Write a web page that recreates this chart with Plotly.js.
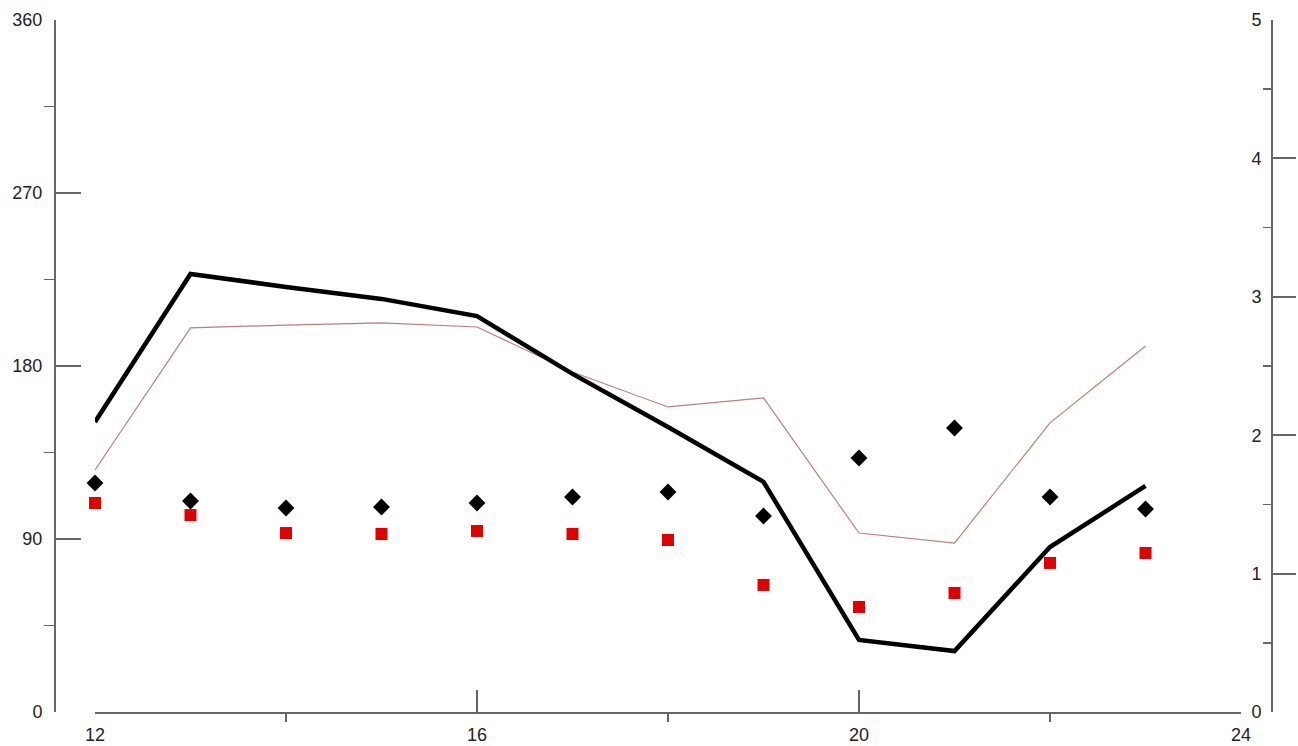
<!DOCTYPE html>
<html>
<head>
<meta charset="utf-8">
<script src="https://cdn.plot.ly/plotly-3.0.1.min.js"></script>
<style>html,body{margin:0;padding:0;background:#fff;}#chart{width:1298px;height:746px;}</style>
</head>
<body>
<div id="chart"></div>
<script>
// Data
const hours = [12, 13, 14, 15, 16, 17, 18, 19, 20, 21, 22, 23];
const blackLine = [150.9, 227.9, 221.1, 214.9, 206.0, 175.9, 148.3, 119.7, 37.5, 31.7, 85.8, 117.6];
const pinkLine = [125.9, 199.8, 201.3, 202.4, 200.3, 176.9, 158.7, 163.4, 93.1, 87.9, 150.4, 190.4];
const diamonds = [1.655, 1.525, 1.474, 1.481, 1.510, 1.553, 1.590, 1.416, 1.835, 2.052, 1.553, 1.467];
const squares = [1.510, 1.423, 1.293, 1.286, 1.308, 1.286, 1.243, 0.918, 0.759, 0.860, 1.077, 1.149];
// Tick positions
const xMinorTicks = [14, 18, 22];
const yMinorTicks = [45, 135, 225, 315];
const y2MinorTicks = [0.5, 1.5, 2.5, 3.5, 4.5];

const W = 1298;
const font = {family: 'Liberation Sans, Arial, sans-serif', size: 18, color: '#222'};
const axisLine = {showline: true, linecolor: '#666', linewidth: 2, showgrid: false, zeroline: false};

const traces = [
  {x: hours, y: pinkLine, type: 'scatter', mode: 'lines', line: {color: 'rgb(190,125,125)', width: 1.2}, xaxis: 'x', yaxis: 'y', cliponaxis: false},
  {x: hours, y: blackLine, type: 'scatter', mode: 'lines', line: {color: '#000', width: 4.5}, xaxis: 'x', yaxis: 'y', cliponaxis: false},
  {x: hours, y: diamonds, type: 'scatter', mode: 'markers', marker: {symbol: 'diamond', color: '#000', size: 13}, xaxis: 'x', yaxis: 'y2', cliponaxis: false},
  {x: hours, y: squares, type: 'scatter', mode: 'markers', marker: {symbol: 'square', color: '#e00000', size: 12}, xaxis: 'x', yaxis: 'y2', cliponaxis: false}
];

const layout = {
  width: 1298, height: 746,
  margin: {l: 0, r: 0, t: 20, b: 34},
  paper_bgcolor: '#fff', plot_bgcolor: '#fff',
  showlegend: false,
  font: font,
  xaxis: Object.assign({}, axisLine, {
    domain: [95 / W, 1241 / W],
    range: [12, 24], dtick: 4, tick0: 12,
    ticks: 'inside', ticklen: 22, tickwidth: 2, tickcolor: '#666',
    ticklabelstandoff: 5,
    minor: {tickmode: 'array', tickvals: xMinorTicks, ticks: 'outside', ticklen: 8, tickwidth: 1.5, tickcolor: '#666'},
    tickfont: font
  }),
  yaxis: Object.assign({}, axisLine, {
    anchor: 'free', position: 55 / W, side: 'left',
    range: [0, 360], dtick: 90, tick0: 0,
    ticks: 'inside', ticklen: 25, tickwidth: 2, tickcolor: '#666',
    ticklabelstandoff: 8,
    minor: {tickmode: 'array', tickvals: yMinorTicks, ticks: 'outside', ticklen: 10, tickwidth: 1.5, tickcolor: '#666'},
    tickfont: font
  }),
  yaxis2: Object.assign({}, axisLine, {
    overlaying: 'y', anchor: 'free', position: 1272 / W, side: 'left',
    range: [0, 5], dtick: 1, tick0: 0,
    ticks: 'inside', ticklen: 23, tickwidth: 2, tickcolor: '#666',
    ticklabelstandoff: 6,
    minor: {tickmode: 'array', tickvals: y2MinorTicks, ticks: 'outside', ticklen: 8, tickwidth: 1.5, tickcolor: '#666'},
    tickfont: font
  })
};

Plotly.newPlot('chart', traces, layout, {displayModeBar: false, staticPlot: true});
</script>
</body>
</html>
